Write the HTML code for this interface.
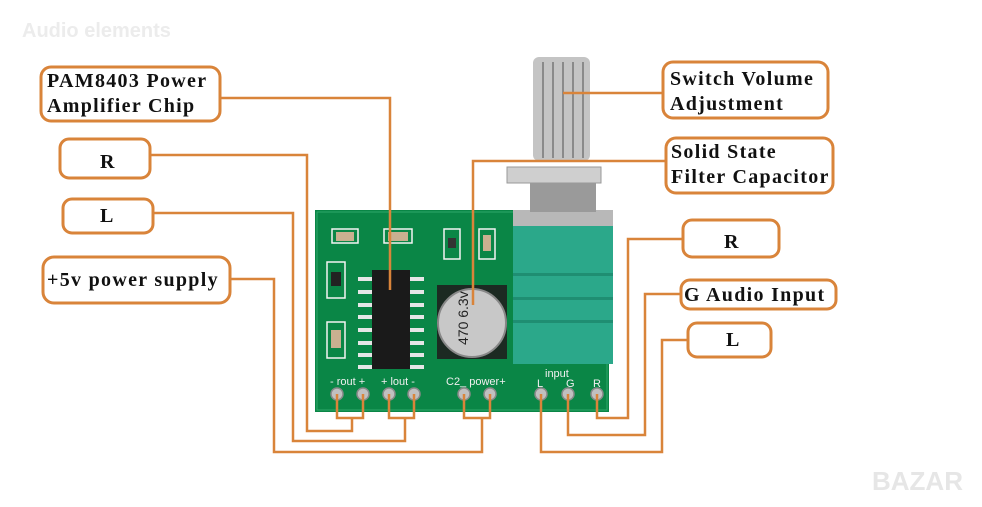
<!DOCTYPE html>
<html><head><meta charset="utf-8"><style>
html,body{margin:0;padding:0;background:#fff;}
svg{display:block}
.t{font-family:"Liberation Serif",serif;font-weight:bold;font-size:20px;letter-spacing:1.3px;fill:#111}
</style></head><body>
<svg width="982" height="507" viewBox="0 0 982 507" xmlns="http://www.w3.org/2000/svg">
<rect width="982" height="507" fill="#fff"/>
<text x="22" y="37" font-family="Liberation Sans,sans-serif" font-weight="bold" font-size="20" fill="#ececec">Audio elements</text>
<text x="872" y="490" font-family="Liberation Sans,sans-serif" font-weight="bold" font-size="26" fill="#e6e6e6">BAZAR</text>

<rect x="315" y="210" width="294" height="202" fill="#0a8646"/>
<rect x="317" y="212" width="290" height="198" fill="none" stroke="#2fa86a" stroke-width="1"/>
<g fill="#d8d8d8" stroke="#f4f4f4" stroke-width="1.5">
<rect x="332" y="229" width="26" height="14" fill="none"/>
<rect x="384" y="229" width="28" height="14" fill="none"/>
<rect x="327" y="262" width="18" height="36" fill="none"/>
<rect x="327" y="322" width="18" height="36" fill="none"/>
<rect x="444" y="229" width="16" height="30" fill="none"/>
<rect x="479" y="229" width="16" height="30" fill="none"/>
</g>
<rect x="336" y="232" width="18" height="9" fill="#c9b090"/>
<rect x="388" y="232" width="20" height="9" fill="#c9b090"/>
<rect x="331" y="272" width="10" height="14" fill="#222"/>
<rect x="331" y="330" width="10" height="18" fill="#c9b090"/>
<rect x="448" y="238" width="8" height="10" fill="#333"/>
<rect x="483" y="235" width="8" height="16" fill="#c9b090"/>
<g fill="#e6e6e6">
<rect x="358" y="277" width="14" height="4"/><rect x="358" y="290" width="14" height="4"/><rect x="358" y="303" width="14" height="4"/><rect x="358" y="315" width="14" height="4"/><rect x="358" y="328" width="14" height="4"/><rect x="358" y="341" width="14" height="4"/><rect x="358" y="353" width="14" height="4"/><rect x="358" y="365" width="14" height="4"/>
<rect x="410" y="277" width="14" height="4"/><rect x="410" y="290" width="14" height="4"/><rect x="410" y="303" width="14" height="4"/><rect x="410" y="315" width="14" height="4"/><rect x="410" y="328" width="14" height="4"/><rect x="410" y="341" width="14" height="4"/><rect x="410" y="353" width="14" height="4"/><rect x="410" y="365" width="14" height="4"/>
</g>
<rect x="372" y="270" width="38" height="99" fill="#1a1a1a"/>
<rect x="437" y="285" width="70" height="74" fill="#1c2a22"/>
<circle cx="472" cy="323" r="34" fill="#c8c8c8" stroke="#888" stroke-width="2"/>
<text x="0" y="0" transform="translate(468,345) rotate(-90)" font-family="Liberation Sans,sans-serif" font-size="14" fill="#222">470 6.3v</text>
<rect x="513" y="210" width="100" height="18" fill="#b8b8b8"/>
<rect x="513" y="226" width="100" height="138" fill="#2ba88a"/>
<rect x="513" y="273" width="100" height="3" fill="#1f8e72"/>
<rect x="513" y="297" width="100" height="3" fill="#1f8e72"/>
<rect x="513" y="320" width="100" height="3" fill="#1f8e72"/>
<rect x="530" y="182" width="66" height="30" fill="#9a9a9a"/>
<rect x="507" y="167" width="94" height="16" fill="#cfcfcf" stroke="#999"/>
<rect x="533" y="57" width="57" height="104" rx="6" fill="#c4c4c4"/>
<g stroke="#8a8a8a" stroke-width="2"><line x1="543" y1="62" x2="543" y2="158"/><line x1="553" y1="62" x2="553" y2="158"/><line x1="563" y1="62" x2="563" y2="158"/><line x1="573" y1="62" x2="573" y2="158"/><line x1="583" y1="62" x2="583" y2="158"/></g>
<g font-family="Liberation Sans,sans-serif" font-size="11" fill="#f0f0f0">
<text x="330" y="385">- rout +</text><text x="381" y="385">+ lout -</text>
<text x="446" y="385">C2_ power+</text>
<text x="545" y="377">input</text><text x="537" y="387">L</text><text x="566" y="387">G</text><text x="593" y="387">R</text>
</g>
<g fill="#c0c0c0" stroke="#8a8a8a" stroke-width="1.5">
<circle cx="337" cy="394" r="6"/><circle cx="363" cy="394" r="6"/><circle cx="389" cy="394" r="6"/><circle cx="414" cy="394" r="6"/>
<circle cx="464" cy="394" r="6"/><circle cx="490" cy="394" r="6"/><circle cx="541" cy="394" r="6"/><circle cx="568" cy="394" r="6"/><circle cx="597" cy="394" r="6"/>
</g>

<g fill="none" stroke="#d9843a" stroke-width="2.5">
<polyline points="220,98 390,98 390,290"/>
<polyline points="150,155 307,155 307,431 352,431 352,418"/>
<polyline points="337,394 337,418 363,418 363,394"/>
<polyline points="153,213 293,213 293,441 405,441 405,418"/>
<polyline points="389,394 389,418 414,418 414,394"/>
<polyline points="230,279 274,279 274,452 482,452 482,418"/>
<polyline points="464,394 464,418 490,418 490,394"/>
<polyline points="563,93 663,93"/>
<polyline points="666,161 473,161 473,305"/>
<polyline points="683,239 628,239 628,418 597,418 597,394"/>
<polyline points="681,294 645,294 645,435 568,435 568,394"/>
<polyline points="688,340 662,340 662,452 541,452 541,394"/>
</g>
<g fill="#fff" stroke="#d9843a" stroke-width="3">
<rect x="41" y="67" width="179" height="54" rx="10"/>
<rect x="60" y="139" width="90" height="39" rx="9"/>
<rect x="63" y="199" width="90" height="34" rx="9"/>
<rect x="43" y="257" width="187" height="46" rx="11"/>
<rect x="663" y="62" width="165" height="56" rx="10"/>
<rect x="666" y="138" width="167" height="55" rx="10"/>
<rect x="683" y="220" width="96" height="37" rx="9"/>
<rect x="681" y="280" width="155" height="29" rx="9"/>
<rect x="688" y="323" width="83" height="34" rx="9"/>
</g>
<text class="t" x="47" y="87">PAM8403 Power</text>
<text class="t" x="47" y="112">Amplifier Chip</text>
<text class="t" x="100" y="168">R</text>
<text class="t" x="100" y="222">L</text>
<text class="t" x="47" y="286">+5v power supply</text>
<text class="t" x="670" y="85">Switch Volume</text>
<text class="t" x="670" y="110">Adjustment</text>
<text class="t" x="671" y="158">Solid State</text>
<text class="t" x="671" y="183">Filter Capacitor</text>
<text class="t" x="724" y="248">R</text>
<text class="t" x="684" y="301">G Audio Input</text>
<text class="t" x="726" y="346">L</text>
</svg>
</body></html>
